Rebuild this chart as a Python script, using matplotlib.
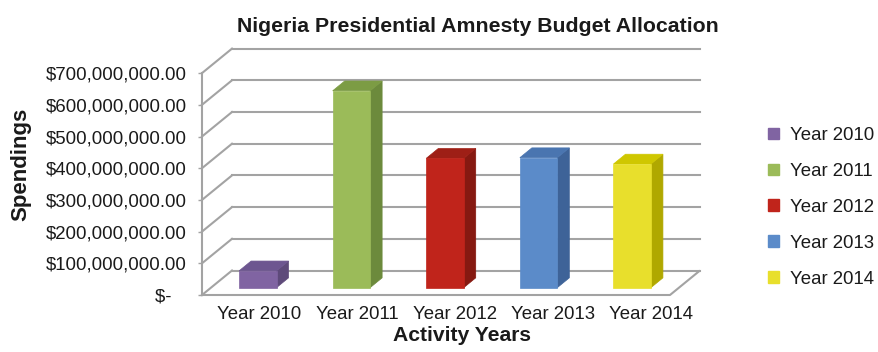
import matplotlib
matplotlib.use("Agg")
import matplotlib.pyplot as plt
from matplotlib.patches import Polygon, Patch
import numpy as np

# ---------------- data ----------------
categories = ["Year 2010", "Year 2011", "Year 2012", "Year 2013", "Year 2014"]
values = [53e6, 621e6, 408e6, 410e6, 390e6]
y_ticks = [0, 100e6, 200e6, 300e6, 400e6, 500e6, 600e6, 700e6]
y_tick_labels = ["$-   ", "$100,000,000.00", "$200,000,000.00", "$300,000,000.00",
                 "$400,000,000.00", "$500,000,000.00", "$600,000,000.00",
                 "$700,000,000.00"]
title = "Nigeria Presidential Amnesty Budget Allocation"
x_label = "Activity Years"
y_label = "Spendings"

front_colors = ["#8064A2", "#9BBB59", "#C0241B", "#5B8BC9", "#E8DF2C"]
side_colors = ["#5E4A7A", "#6C8A3C", "#861911", "#3E6398", "#B0A800"]
top_colors = ["#6D5690", "#7C9C44", "#9E1F16", "#4A75B0", "#CFC700"]

# ---------------- figure ----------------
W, H = 879, 352
fig = plt.figure(figsize=(W / 100, H / 100), dpi=100)
fig.patch.set_facecolor("white")
FONT = "Liberation Sans"
plt.rcParams["font.family"] = [FONT, "DejaVu Sans"]

# pixel geometry of the plot box
px_per_cat = 93.6
px_per_val = 31.7 / 100e6
depth_px_x, depth_px_y = 30.0, 24.5
left_px, bottom_px = 202.0, 295.0
n = len(categories)
DX = depth_px_x / px_per_cat
DY = depth_px_y / px_per_val
xmin, xmax = -0.5, n - 0.5 + DX
ax_w_px = (xmax - xmin) * px_per_cat
ax_h_px = 250.0
ymax = ax_h_px / px_per_val

ax = fig.add_axes([left_px / W, (H - bottom_px) / H, ax_w_px / W, ax_h_px / H])
ax.set_xlim(xmin, xmax)
ax.set_ylim(0, ymax)
ax.patch.set_alpha(0)
for s in ax.spines.values():
    s.set_visible(False)

grid_c = "#A3A3A3"
lw = 1.5

# floor
x0f, x1f = -0.5, n - 0.5
ax.plot([x0f, x1f, x1f + DX], [0, 0, DY], color=grid_c, lw=lw, clip_on=False,
        solid_capstyle="butt", zorder=1)
# back wall gridlines and left wall diagonals
for v in y_ticks:
    ax.plot([x0f + DX, x1f + DX], [v + DY, v + DY], color=grid_c, lw=lw,
            clip_on=False, zorder=1)
    ax.plot([x0f, x0f + DX], [v, v + DY], color=grid_c, lw=lw,
            clip_on=False, zorder=1)
# front vertical axis line
ax.plot([x0f, x0f], [0, y_ticks[-1]], color=grid_c, lw=lw, clip_on=False, zorder=1)

# bars
bw = 0.4
d0, bd = 0.3, 0.4
for i, (v, fc, sc, tc) in enumerate(zip(values, front_colors, side_colors, top_colors)):
    bx = i - bw / 2 + d0 * DX
    by = d0 * DY
    ddx, ddy = bd * DX, bd * DY
    front = [(bx, by), (bx + bw, by), (bx + bw, by + v), (bx, by + v)]
    side = [(bx + bw, by), (bx + bw + ddx, by + ddy), (bx + bw + ddx, by + v + ddy),
            (bx + bw, by + v)]
    top = [(bx, by + v), (bx + bw, by + v), (bx + bw + ddx, by + v + ddy),
           (bx + ddx, by + v + ddy)]
    for pts, c in ((side, sc), (top, tc), (front, fc)):
        ax.add_patch(Polygon(pts, closed=True, facecolor=c, edgecolor=c,
                             lw=0.5, zorder=3, clip_on=False))

# y ticks
ax.set_yticks(y_ticks)
ax.set_yticklabels(y_tick_labels)
ax.tick_params(axis="y", length=3, width=1, color=grid_c, pad=8,
               labelsize=13.4, labelcolor="#1A1A1A")

# x ticks (category labels)
tick_pos = np.arange(n) * 1.046 + 0.11
ax.set_xticks(tick_pos)
ax.set_xticklabels(categories)
ax.tick_params(axis="x", length=0, pad=8, labelsize=13.4, labelcolor="#1A1A1A")

# titles
fig.text(477.5 / W, (H - 31.5) / H, title, ha="center", va="baseline",
         fontsize=15.3, fontweight="bold", color="#1A1A1A")
fig.text(461.7 / W, (H - 341) / H, x_label, ha="center", va="baseline",
         fontsize=15.2, fontweight="bold", color="#1A1A1A")
fig.text(21 / W, (H - 164) / H, y_label, ha="center", va="center", rotation=90,
         fontsize=16, fontweight="bold", color="#1A1A1A")

# legend
handles = [Patch(facecolor=c, edgecolor=c) for c in front_colors]
fig.legend(handles, categories, loc="upper left",
           bbox_to_anchor=(768 / W, (H - 127) / H), frameon=False,
           fontsize=13.4, handlelength=0.6, handleheight=0.6,
           handletextpad=0.6, labelspacing=1.02, borderpad=0, borderaxespad=0,
           labelcolor="#1A1A1A")

fig.savefig("out.png", dpi=100)
